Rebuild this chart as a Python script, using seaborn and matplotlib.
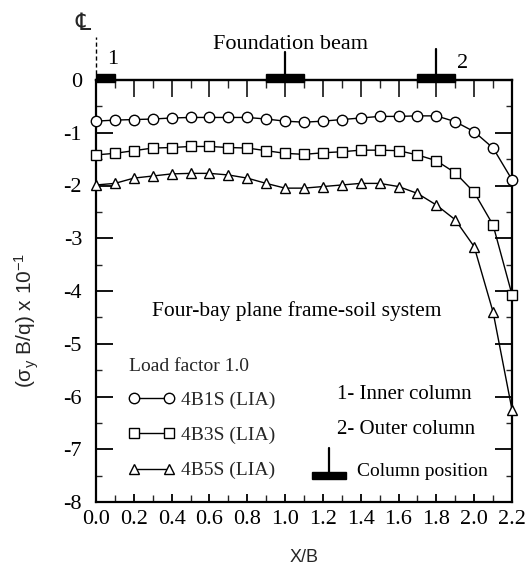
import numpy as np
import pandas as pd
import matplotlib
matplotlib.use("Agg")
import matplotlib.pyplot as plt
from matplotlib.patches import Rectangle
from matplotlib.ticker import MultipleLocator
import seaborn as sns

# ---------------- data ----------------
x_vals = [0.0, 0.1, 0.2, 0.3, 0.4, 0.5, 0.6, 0.7, 0.8, 0.9, 1.0, 1.1,
          1.2, 1.3, 1.4, 1.5, 1.6, 1.7, 1.8, 1.9, 2.0, 2.1, 2.2]
s_4b1s = [-0.78, -0.76, -0.75, -0.74, -0.72, -0.71, -0.71, -0.71, -0.71, -0.74, -0.78, -0.80,
          -0.78, -0.75, -0.72, -0.69, -0.69, -0.68, -0.68, -0.79, -0.98, -1.29, -1.89]
s_4b3s = [-1.42, -1.39, -1.34, -1.29, -1.28, -1.26, -1.26, -1.28, -1.29, -1.34, -1.39, -1.41,
          -1.38, -1.36, -1.33, -1.33, -1.34, -1.42, -1.53, -1.76, -2.13, -2.75, -4.07]
s_4b5s = [-1.99, -1.96, -1.86, -1.82, -1.78, -1.77, -1.77, -1.80, -1.86, -1.96, -2.05, -2.05,
          -2.02, -1.99, -1.96, -1.96, -2.02, -2.15, -2.37, -2.65, -3.16, -4.40, -6.25]
series_names = ["4B1S (LIA)", "4B3S (LIA)", "4B5S (LIA)"]
x_ticks = [0.0, 0.2, 0.4, 0.6, 0.8, 1.0, 1.2, 1.4, 1.6, 1.8, 2.0, 2.2]
y_ticks = [0, -1, -2, -3, -4, -5, -6, -7, -8]
column_centres = [0.0, 1.0, 1.8]

df = pd.DataFrame({
    "x": x_vals * 3,
    "y": s_4b1s + s_4b3s + s_4b5s,
    "series": [n for n in series_names for _ in x_vals],
})

# ---------------- style ----------------
sns.set_style("ticks")
plt.rcParams["font.family"] = ["Liberation Serif", "DejaVu Sans"]
plt.rcParams["axes.unicode_minus"] = False
plt.rcParams["mathtext.default"] = "regular"

W, H = 527, 571
fig = plt.figure(figsize=(W / 100, H / 100), dpi=100)
ax = fig.add_axes([96 / W, 1 - 502 / H, (512 - 96) / W, (502 - 80) / H])

sns.lineplot(data=df, x="x", y="y", style="series", markers=["o", "s", "^"],
             dashes=False, color="black", markerfacecolor="white",
             markeredgecolor="black", markeredgewidth=1.0, markersize=7.5,
             linewidth=1.0, legend=False, sort=False, errorbar=None, ax=ax,
             clip_on=False, zorder=5)

ax.set_xlim(0, 2.2)
ax.set_ylim(-8, 0)
ax.set_xticks(x_ticks)
ax.set_xticklabels([f"{t:.1f}" for t in x_ticks])
ax.xaxis.set_minor_locator(MultipleLocator(0.1))
ax.set_yticks(y_ticks)
ax.set_yticklabels([f"{t:d}" for t in y_ticks])
ax.yaxis.set_minor_locator(MultipleLocator(0.5))

for sp in ax.spines.values():
    sp.set_visible(True)
    sp.set_linewidth(1.6)
    sp.set_color("black")

ax.tick_params(axis="x", which="major", direction="in", length=6, width=1.3,
               labelsize=16, pad=6, top=False, bottom=True, colors="black")
ax.tick_params(axis="x", which="minor", direction="in", length=5, width=1.0,
               top=False, bottom=True)
ax.tick_params(axis="y", which="major", direction="in", length=12, width=1.3,
               labelsize=16, pad=10, left=True, right=True, colors="black")
ax.tick_params(axis="y", which="minor", direction="in", length=4, width=1.0,
               left=True, right=True)

top = ax.secondary_xaxis("top")
top.set_xticks(x_ticks)
top.xaxis.set_minor_locator(MultipleLocator(0.1))
top.tick_params(axis="x", which="major", direction="in", length=12, width=1.3,
                labeltop=False)
top.tick_params(axis="x", which="minor", direction="in", length=6, width=1.0)
top.spines["top"].set_linewidth(1.6)

ax.set_xlabel("X/B", family="Liberation Sans", fontsize=13, labelpad=14)
ax.set_ylabel(r"($\sigma_y$ B/q) x 10$^{-1}$", family="Liberation Sans",
              fontsize=15, va="center")
ax.yaxis.set_label_coords(-0.166, 0.43)

# ---------------- legend ----------------
handles = ax.lines[:3]
leg = ax.legend(handles, series_names, title="Load factor 1.0", numpoints=2,
                frameon=False, loc="upper left", bbox_to_anchor=(0.055, 0.365),
                prop={"family": "Liberation Serif", "size": 14},
                title_fontproperties={"family": "Liberation Serif", "size": 14},
                handlelength=2.4, handletextpad=0.3, labelspacing=0.9,
                alignment="left", borderpad=0.0)
leg._legend_box.sep = 12

# ---------------- annotations ----------------
tkw = dict(family="Liberation Serif", color="black")
ax.text(-0.07, 1.07, "\u2104", fontsize=17, ha="center", va="center",
        clip_on=False, family=["DejaVu Serif", "DejaVu Sans"])
ax.plot([0, 0], [0.12, 0.82], ls=(0, (3, 2)), lw=1.0, color="black", clip_on=False)
ax.text(1.03, 0.68, "Foundation beam", fontsize=16, ha="center", va="center",
        clip_on=False, **tkw)
ax.text(0.09, 0.38, "1", fontsize=16, ha="center", va="center", clip_on=False, **tkw)
ax.text(1.94, 0.32, "2", fontsize=16, ha="center", va="center", clip_on=False, **tkw)

# column position bars on beam
bars = [(0.0, 0.1), (0.9, 1.1), (1.7, 1.9)]
for (a, b) in bars:
    ax.add_patch(Rectangle((a, -0.03), b - a, 0.15, color="black",
                           clip_on=False, zorder=6))
ax.plot([column_centres[1]] * 2, [0.0, 0.53], lw=1.6, color="black", clip_on=False)
ax.plot([column_centres[2]] * 2, [0.0, 0.59], lw=1.6, color="black", clip_on=False)

ax.text(1.06, -4.375, "Four-bay plane frame-soil system", fontsize=15.5,
        ha="center", va="center", **tkw)
ax.text(1.275, -5.97, "1- Inner column", fontsize=15, ha="left", va="center", **tkw)
ax.text(1.275, -6.63, "2- Outer column", fontsize=15, ha="left", va="center", **tkw)
ax.text(1.38, -7.42, "Column position", fontsize=14, ha="left", va="center", **tkw)
ax.add_patch(Rectangle((1.14, -7.565), 0.18, 0.13, color="black", zorder=6))
ax.plot([1.233, 1.233], [-7.5, -6.97], lw=1.6, color="black")

fig.savefig("out.png", dpi=100)
